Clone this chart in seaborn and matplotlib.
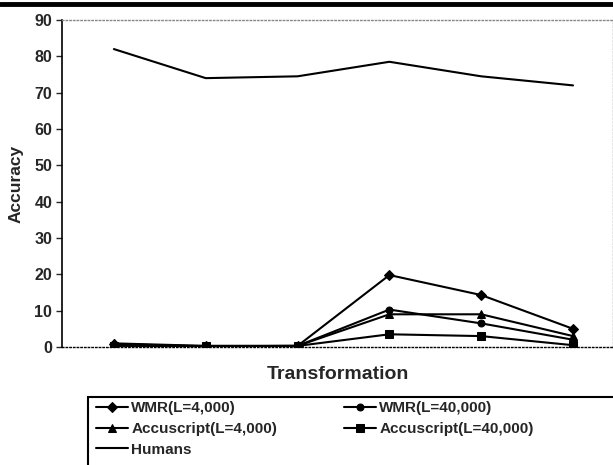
import matplotlib
matplotlib.use('Agg')
import matplotlib.pyplot as plt
from matplotlib.lines import Line2D
from matplotlib.patches import Rectangle
import pandas as pd
import seaborn as sns

sns.set_style('white')
plt.rcParams['font.family'] = ['Liberation Sans', 'DejaVu Sans']
plt.rcParams['font.weight'] = 'bold'

# values
transforms = [1, 2, 3, 4, 5, 6]
wmr_4000 = [0.8, 0.2, 0.3, 19.8, 14.3, 5.0]
wmr_40000 = [0.5, 0.2, 0.3, 10.3, 6.5, 2.0]
accu_4000 = [1.0, 0.3, 0.3, 9.0, 9.0, 3.0]
accu_40000 = [0.3, 0.3, 0.3, 3.5, 3.0, 0.5]
humans = [82.0, 74.0, 74.5, 78.5, 74.5, 72.0]

series = [
    ('WMR(L=4,000)', wmr_4000, 'D', 5),
    ('WMR(L=40,000)', wmr_40000, 'o', 5),
    ('Accuscript(L=4,000)', accu_4000, '^', 6),
    ('Accuscript(L=40,000)', accu_40000, 's', 6),
    ('Humans', humans, None, 0),
]

fig = plt.figure(figsize=(6.13, 4.65), dpi=100)
ax = fig.add_axes([62/613, 1-347/465, 551/613, 327/465])

for name, vals, mk, ms in series:
    df = pd.DataFrame({'x': transforms, 'y': vals})
    sns.lineplot(data=df, x='x', y='y', ax=ax, color='black', linewidth=1.5,
                 marker=mk, markersize=ms, markeredgecolor='black', label=name)

ax.set_xlim(0.435, 6.435)
ax.set_ylim(0, 90)
ax.set_yticks(range(0, 91, 10))
ax.set_xticks([])
ax.tick_params(axis='y', labelsize=11.5, length=4, direction='out', left=True, width=1, pad=3)
for lab in ax.get_yticklabels():
    lab.set_fontweight('bold')
ax.set_xlabel('Transformation', fontsize=14, fontweight='bold', labelpad=14)
ax.set_ylabel('Accuracy', fontsize=12.5, fontweight='bold', labelpad=8)

ax.spines['left'].set_color('black')
ax.spines['left'].set_linewidth(1.2)
for s in ['top', 'right', 'bottom']:
    ax.spines[s].set_color('#888888')
    ax.spines[s].set_linestyle(':')
    ax.spines[s].set_linewidth(1.0)
ax.spines['bottom'].set_color('black')

handles, labels = ax.get_legend_handles_labels()
ax.get_legend().remove()
# column-major order so rows read WMR / Accuscript / Humans
order = [0, 2, 4, 1, 3]
leg = fig.legend([handles[i] for i in order], [labels[i] for i in order],
                 loc='upper left', ncol=2,
                 bbox_to_anchor=(96/613, 1-401/465),
                 fontsize=11, frameon=False, handlelength=2.1,
                 handletextpad=0.2, borderaxespad=0, labelspacing=0.45,
                 borderpad=0, columnspacing=4.4)
for t in leg.get_texts():
    t.set_fontweight('bold')

# legend box, cut by the figure's right and bottom edges
fig.add_artist(Rectangle((88/613, -0.05), 0.9, 1-397/465 + 0.05, fill=False,
                         edgecolor='black', linewidth=1.5, transform=fig.transFigure))

# thick rule across the top of the figure
fig.add_artist(Line2D([0, 1], [1-4/465, 1-4/465], color='black', linewidth=3.5,
                      transform=fig.transFigure))

fig.savefig('out.png', dpi=100)
